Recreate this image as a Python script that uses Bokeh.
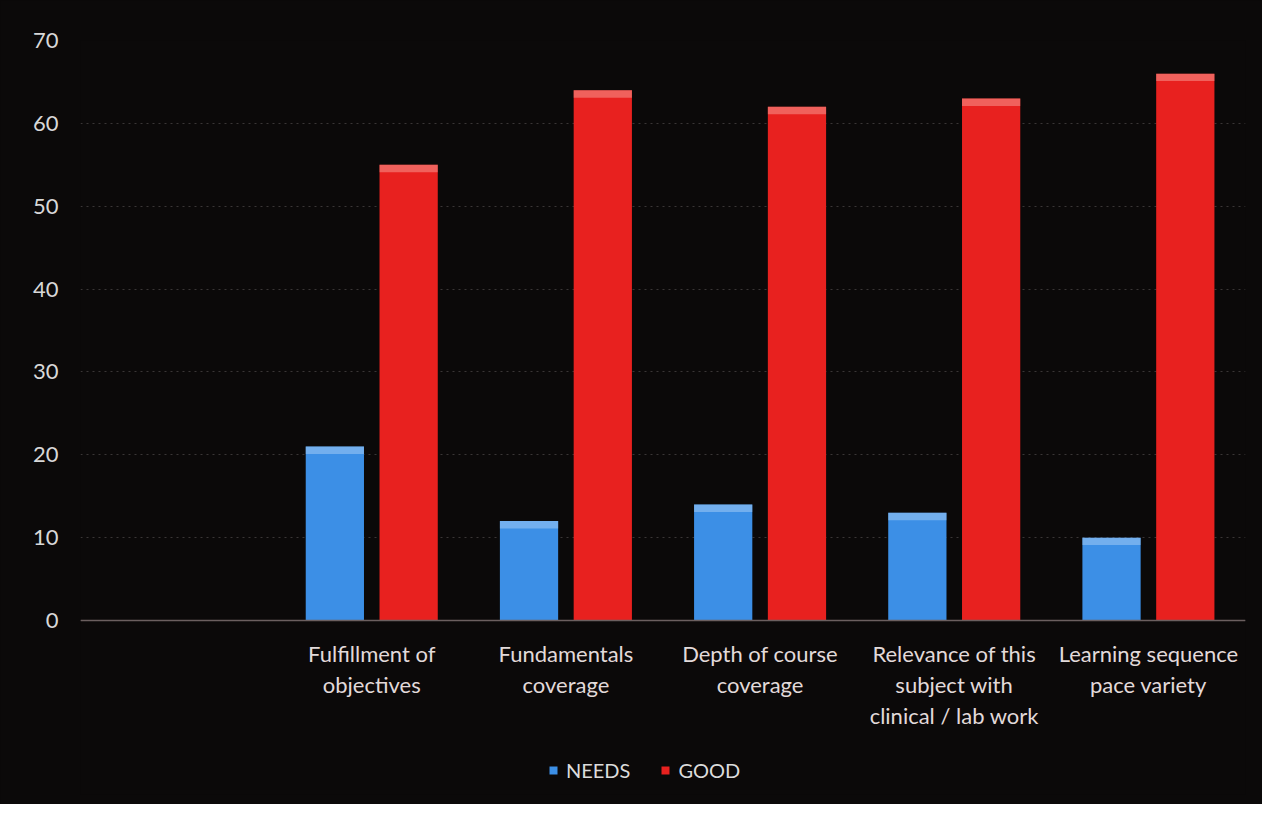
from bokeh.plotting import figure
from bokeh.models import ColumnDataSource, FixedTicker, Legend, LegendItem, Range1d, Span
from bokeh.transform import dodge
from bokeh.core.properties import value
from bokeh.embed import file_html
from bokeh.resources import INLINE

categories = [
    "Fulfillment of\nobjectives",
    "Fundamentals\ncoverage",
    "Depth of course\ncoverage",
    "Relevance of this\nsubject with\nclinical / lab work",
    "Learning sequence\npace variety",
]
needs = [21, 12, 14, 13, 10]
good = [55, 64, 62, 63, 66]
y_ticks = [0, 10, 20, 30, 40, 50, 60, 70]

# slot 0 of the axis is empty in the original chart
xpos = [i + 1.5 for i in range(len(categories))]
BEVEL = 0.9
src = ColumnDataSource(dict(x=xpos, needs=needs, good=good, label=categories,
                            zero=[0] * len(categories),
                            needs_b=[v - BEVEL for v in needs],
                            good_b=[v - BEVEL for v in good]))

FONT = "Lato"
BG = "#0b0909"

# frame extends below the zero line so that category labels and legend sit inside it
p = figure(frame_width=1165, frame_height=754, output_backend="svg", toolbar_location=None,
           x_range=Range1d(0, len(categories) + 1), y_range=Range1d(-21.0, 70),
           background_fill_color=BG, border_fill_color=BG,
           min_border_left=80, min_border_right=17, min_border_top=40, min_border_bottom=10)
p.outline_line_color = None
p.styles = {"background-color": BG}

r_needs = p.vbar(x=dodge("x", -0.19, range=p.x_range), top="needs", width=0.3, source=src,
                 fill_color="#3c8fe6", line_color=None)
r_good = p.vbar(x=dodge("x", 0.19, range=p.x_range), top="good", width=0.3, source=src,
                fill_color="#e8211f", line_color=None)
# bevel highlight at top of bars
p.vbar(x=dodge("x", -0.19, range=p.x_range), top="needs", bottom="needs_b", width=0.3,
       source=src, fill_color="#a9d0f5", fill_alpha=0.5, line_color=None)
p.vbar(x=dodge("x", 0.19, range=p.x_range), top="good", bottom="good_b", width=0.3,
       source=src, fill_color="#f7a19a", fill_alpha=0.5, line_color=None)

# zero line (category axis line)
p.add_layout(Span(location=0, dimension="width", line_color="#6b5f5f", line_width=1.5))

# category labels under the zero line
p.text(x="x", y="zero", text="label", source=src, y_offset=19,
       text_align="center", text_baseline="top", text_font=value(FONT),
       text_font_size="22px", text_color="#e2dada", text_line_height=1.15)

p.xaxis.visible = False

p.yaxis.ticker = FixedTicker(ticks=y_ticks)
p.yaxis.major_label_text_font = FONT
p.yaxis.major_label_text_font_size = "22px"
p.yaxis.major_label_text_color = "#d8d8d8"
p.yaxis.major_label_standoff = 16
p.yaxis.axis_line_color = None
p.yaxis.major_tick_line_color = None
p.yaxis.minor_tick_line_color = None

p.xgrid.grid_line_color = None
p.ygrid.grid_line_color = "#3a3636"
p.ygrid.grid_line_dash = "2 4"
p.ygrid.grid_line_width = 1

legend = Legend(items=[LegendItem(label="NEEDS", renderers=[r_needs]),
                       LegendItem(label="GOOD", renderers=[r_good])],
                orientation="horizontal", location=(468, 12),
                background_fill_alpha=0, border_line_color=None,
                label_text_font=FONT, label_text_font_size="20px", label_text_color="#dcdcdc",
                glyph_width=10, glyph_height=10, spacing=30, label_standoff=8,
                padding=0, margin=0)
p.add_layout(legend, "center")

open("out.html", "w").write(file_html(p, INLINE))
